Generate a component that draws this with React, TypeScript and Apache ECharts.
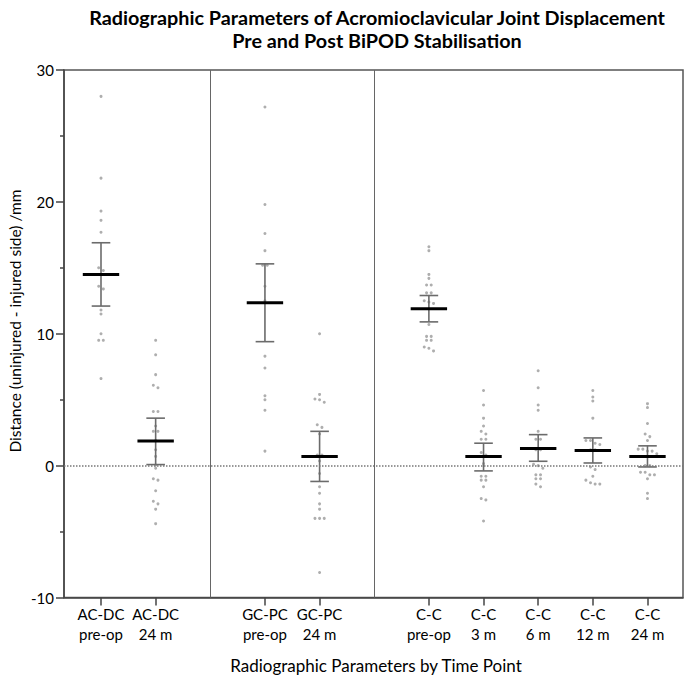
import React, { useEffect, useRef } from "react";
import * as echarts from "echarts";

const categories = [
  "AC-DC\npre-op", "AC-DC\n24 m", "", "GC-PC\npre-op", "GC-PC\n24 m", "",
  "C-C\npre-op", "C-C\n3 m", "C-C\n6 m", "C-C\n12 m", "C-C\n24 m",
];
const groupPositions = [0, 1, 3, 4, 6, 7, 8, 9, 10];
const separatorPositions = [2, 5];
const yTicks = [-10, 0, 10, 20, 30];

const acdcPreop = [28.0, 21.8, 19.3, 18.6, 17.7, 15.0, 14.8, 13.6, 13.4, 11.8, 11.5, 10.0, 9.5, 9.5, 6.6];
const acdc24m = [9.5, 8.4, 6.9, 6.1, 5.9, 4.1, 4.1, 3.0, 2.6, 2.6, 1.9, 1.2, 0.7, 0.05, -0.2, -1.0, -1.1, -1.9, -2.7, -2.9, -3.3, -4.4];
const gcpcPreop = [27.2, 19.8, 17.6, 16.3, 15.2, 15.2, 13.6, 12.5, 8.3, 7.4, 5.3, 5.0, 4.2, 1.1];
const gcpc24m = [10.0, 5.4, 5.05, 5.0, 4.8, 3.1, 2.9, 2.4, 0.8, 0.8, 0.35, -0.6, -1.6, -2.1, -2.9, -3.3, -4.0, -4.0, -4.0, -8.1];
const ccPreop = [16.6, 16.3, 14.5, 14.2, 13.7, 13.7, 13.1, 13.1, 12.5, 12.4, 12.3, 10.7, 9.8, 9.8, 9.5, 9.5, 9.0, 8.9, 8.7];
const cc3m = [5.7, 4.6, 3.6, 3.0, 2.6, 2.4, 2.0, 2.0, 1.0, 0.8, 0.15, -0.8, -0.8, -1.1, -1.1, -1.6, -2.5, -2.6, -4.2];
const cc6m = [7.2, 5.9, 4.6, 4.2, 2.6, 2.0, 2.0, 1.2, 1.2, 0.1, 0.0, -0.2, -0.7, -0.7, -1.0, -1.0, -1.4, -1.6];
const cc12m = [5.7, 5.2, 4.9, 3.6, 1.9, 1.9, 1.7, 1.6, 1.2, 1.2, -0.1, -0.3, -0.8, -1.1, -1.3, -1.4, -1.4];
const cc24m = [4.7, 4.4, 3.2, 2.4, 2.2, 1.9, 1.25, 1.25, 1.1, 1.1, 0.9, 0.0, 0.0, -0.5, -0.5, -0.7, -0.7, -1.0, -2.1, -2.5];

const groupValues = [acdcPreop, acdc24m, gcpcPreop, gcpc24m, ccPreop, cc3m, cc6m, cc12m, cc24m];
const means = [14.5, 1.87, 12.35, 0.7, 11.9, 0.7, 1.3, 1.15, 0.7];
const ciLow = [12.1, 0.08, 9.4, -1.2, 10.9, -0.4, 0.33, 0.2, -0.1];
const ciHigh = [16.9, 3.6, 15.3, 2.6, 12.9, 1.7, 2.35, 2.1, 1.5];

const FONT = "Lato, 'Open Sans', sans-serif";

function buildPoints() {
  const pts: number[][] = [];
  groupValues.forEach((vals, gi) => {
    const x0 = groupPositions[gi];
    const sorted = [...vals].sort((a, b) => b - a);
    let i = 0;
    while (i < sorted.length) {
      let j = i + 1;
      while (j < sorted.length && sorted[j - 1] - sorted[j] < 0.25) j++;
      const k = j - i;
      for (let m = 0; m < k; m++) {
        pts.push([x0 + (m - (k - 1) / 2) * 0.085, sorted[i + m]]);
      }
      i = j;
    }
  });
  return pts;
}

export default function App() {
  const ref = useRef<HTMLDivElement>(null);
  useEffect(() => {
    if (!ref.current) return;
    const chart = echarts.init(ref.current, undefined, { renderer: "svg" });
    const barData = groupPositions.map((x, i) => [x, ciLow[i], ciHigh[i], means[i]]);
    chart.setOption({
      animation: false,
      backgroundColor: "#fff",
      textStyle: { fontFamily: FONT },
      grid: {
        left: 64, right: 2, top: 70, bottom: 85.5,
        show: true, borderColor: "#555", borderWidth: 1.5, containLabel: false,
      },
      graphic: [
        {
          type: "text", x: 377, y: 17,
          style: {
            text: "Radiographic Parameters of Acromioclavicular Joint Displacement",
            font: `bold 19.8px ${FONT}`, fill: "#000", align: "center", verticalAlign: "middle",
          },
        },
        {
          type: "text", x: 377, y: 40,
          style: {
            text: "Pre and Post BiPOD Stabilisation",
            font: `bold 19.8px ${FONT}`, fill: "#000", align: "center", verticalAlign: "middle",
          },
        },
        {
          type: "text", x: 15, y: 321, rotation: Math.PI / 2,
          style: {
            text: "Distance (uninjured - injured side) /mm",
            font: `15.5px ${FONT}`, fill: "#000", align: "center", verticalAlign: "middle",
          },
        },
        {
          type: "text", x: 376, y: 665,
          style: {
            text: "Radiographic Parameters by Time Point",
            font: `17px ${FONT}`, fill: "#000", align: "center", verticalAlign: "middle",
          },
        },
      ],
      xAxis: {
        type: "value", min: -0.677, max: 10.65,
        splitLine: { show: false },
        axisLine: { show: true, onZero: false, lineStyle: { color: "#444", width: 1.5 } },
        axisTick: { show: true, customValues: groupPositions, length: 8, lineStyle: { color: "#444", width: 1.5 } },
        axisLabel: {
          show: true, customValues: groupPositions, margin: 6,
          formatter: (v: number) => categories[Math.round(v)] || "",
          fontSize: 15, lineHeight: 20, color: "#000", fontFamily: FONT,
        },
      },
      yAxis: {
        type: "value", min: yTicks[0], max: yTicks[yTicks.length - 1], interval: 10,
        splitLine: { show: false },
        axisLine: { show: true, onZero: false, lineStyle: { color: "#444", width: 1.5 } },
        axisTick: { show: true, length: 8, lineStyle: { color: "#444", width: 1.5 } },
        minorTick: { show: true, splitNumber: 2, length: 4, lineStyle: { color: "#444", width: 1.5 } },
        axisLabel: { fontSize: 15, color: "#000", margin: 10, fontFamily: FONT },
      },
      series: [
        {
          type: "scatter",
          data: buildPoints(),
          symbol: "circle",
          symbolSize: 3,
          itemStyle: { color: "#9a9a9a" },
          z: 2,
          markLine: {
            silent: true, symbol: "none", label: { show: false },
            data: [
              { yAxis: 0, lineStyle: { type: "dotted", color: "#777", width: 1.5 } },
              ...separatorPositions.map((p) => ({ xAxis: p, lineStyle: { type: "solid", color: "#666", width: 1 } })),
            ],
          },
        },
        {
          type: "custom",
          z: 3,
          data: barData,
          renderItem: (params: any, api: any) => {
            const x = api.value(0);
            const lo = api.coord([x, api.value(1)]);
            const hi = api.coord([x, api.value(2)]);
            const mn = api.coord([x, api.value(3)]);
            const cap = 9.3;
            const half = 18.2;
            const es = { stroke: "#6b6b6b", lineWidth: 1.6 };
            return {
              type: "group",
              children: [
                { type: "line", shape: { x1: lo[0], y1: lo[1], x2: hi[0], y2: hi[1] }, style: es },
                { type: "line", shape: { x1: hi[0] - cap, y1: hi[1], x2: hi[0] + cap, y2: hi[1] }, style: es },
                { type: "line", shape: { x1: lo[0] - cap, y1: lo[1], x2: lo[0] + cap, y2: lo[1] }, style: es },
                { type: "line", shape: { x1: mn[0] - half, y1: mn[1], x2: mn[0] + half, y2: mn[1] }, style: { stroke: "#000", lineWidth: 3 } },
              ],
            };
          },
        },
      ],
    });
    return () => chart.dispose();
  }, []);
  return <div ref={ref} style={{ position: "absolute", left: 0, top: 0, width: 685, height: 683 }} />;
}
